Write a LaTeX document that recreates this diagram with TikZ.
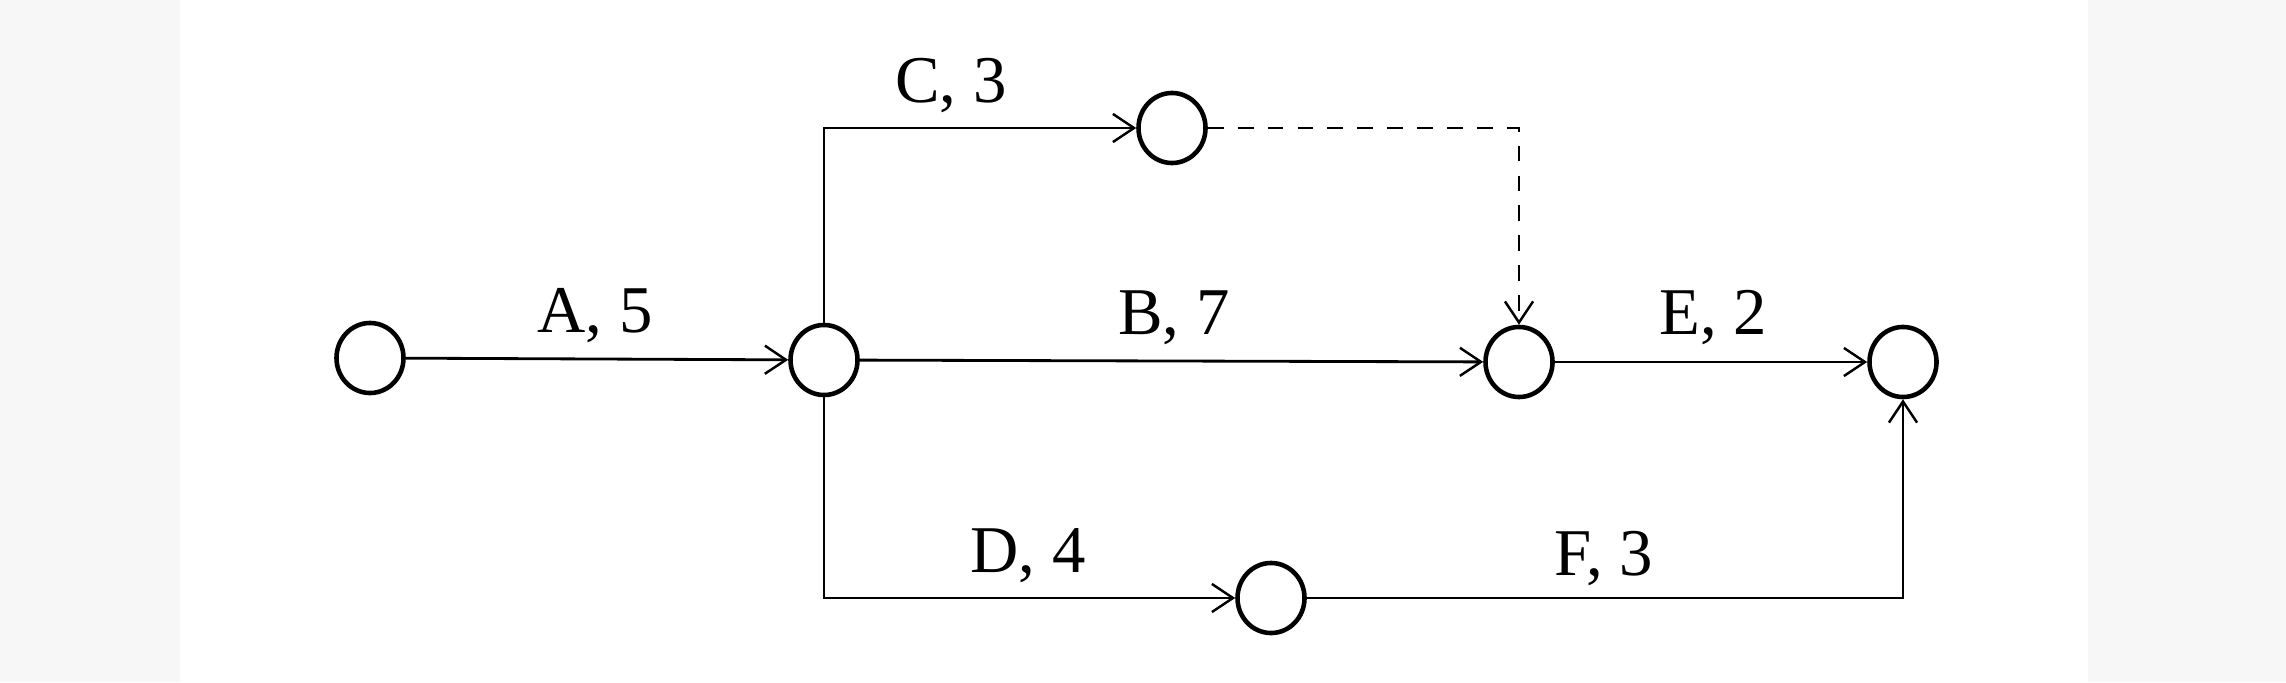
\documentclass[tikz,border=0pt]{standalone}
\usepackage{fontspec}
\setmainfont{Liberation Serif}
\usetikzlibrary{arrows.meta,shapes.geometric}
\begin{document}
\begin{tikzpicture}[x=0.01cm,y=-0.01cm,
  ev/.style={draw, line width=1.3pt, ellipse, minimum width=0.67cm, minimum height=0.70cm, inner sep=0pt},
  act/.style={line width=0.8pt, -{Straight Barb[length=6pt,width=8pt,line width=0.7pt]}},
  dum/.style={act, dash pattern=on 4.5pt off 4pt},
  lab/.style={font=\fontsize{19}{21}\selectfont, inner sep=0pt}]
\useasboundingbox (0,0) rectangle (2286,682);
\fill[black!3] (0,0) rectangle (2286,682);
\fill[white] (180,0) rectangle (2088,682);
\node[ev] (n1) at (370,358) {};
\node[ev] (n2) at (824,360) {};
\node[ev] (n3) at (1172,128) {};
\node[ev] (n4) at (1519,362) {};
\node[ev] (n5) at (1903,362) {};
\node[ev] (n6) at (1271,598) {};
\draw[act] (n1) -- (n2);
\draw[act] (n2.north) |- (n3.west);
\draw[act] (n2) -- (n4);
\draw[dum] (n3.east) -| (n4.north);
\draw[act] (n2.south) |- (n6.west);
\draw[act] (n4) -- (n5);
\draw[act] (n6.east) -| (n5.south);
\node[lab] (lA) at (595,316) {A,~5};
\node[lab] (lB) at (1174,318) {B,~7};
\node[lab] (lC) at (951,86) {C,~3};
\node[lab] (lE) at (1713,318) {E,~2};
\node[lab] (lD) at (1028,556) {D,~4};
\node[lab] (lF) at (1604,559) {F,~3};
\end{tikzpicture}
\end{document}
